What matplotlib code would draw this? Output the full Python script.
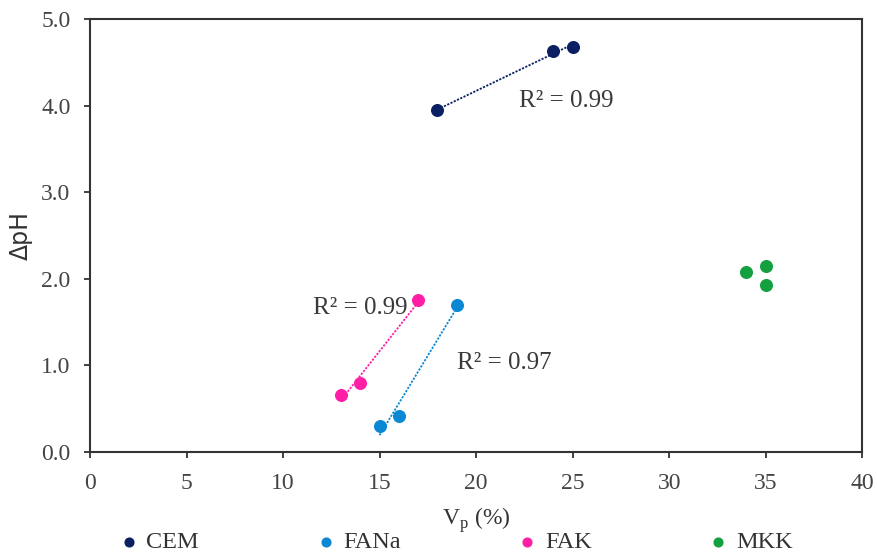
import numpy as np
import matplotlib.pyplot as plt

plt.rcParams['font.family'] = ['Liberation Serif', 'DejaVu Serif']

# data
cem_x = [18, 24, 25]
cem_y = [3.95, 4.63, 4.68]
fana_x = [15, 16, 19]
fana_y = [0.30, 0.42, 1.70]
fak_x = [13, 14, 17]
fak_y = [0.66, 0.80, 1.75]
mkk_x = [34, 35, 35]
mkk_y = [2.08, 2.15, 1.93]

names = ['CEM', 'FANa', 'FAK', 'MKK']
colors = ['#0b1f63', '#0a88d4', '#ff1fa6', '#13a03f']
r2_text = ['R² = 0.99', 'R² = 0.97', 'R² = 0.99', None]
r2_pos = [(22.2, 4.05), (19.0, 1.03), (11.55, 1.66), None]

fig = plt.figure(figsize=(8.78, 5.57), dpi=100)
ax = fig.add_axes([0.1025, 0.1885, 0.8795, 0.7775])

series = [(cem_x, cem_y), (fana_x, fana_y), (fak_x, fak_y), (mkk_x, mkk_y)]
for i, (x, y) in enumerate(series):
    ax.scatter(x, y, s=70, color=colors[i], label=names[i], zorder=3)
    if r2_text[i] is not None:
        # linear trendline
        k, b = np.polyfit(x, y, 1)
        xx = np.array([min(x), max(x)])
        ax.plot(xx, k*xx+b, color=colors[i], lw=1.3, ls=(0, (1.2, 0.8)), zorder=2)
        ax.text(r2_pos[i][0], r2_pos[i][1], r2_text[i], fontsize=18, color='#3a3a3a',
                va='center', ha='left')

ax.set_xlim(0, 40)
ax.set_ylim(0, 5)
ax.set_xticks(range(0, 41, 5))
ax.set_yticks(np.arange(0, 5.01, 1))
ax.set_yticklabels(['%.1f' % v for v in np.arange(0, 5.01, 1)])
ax.tick_params(labelsize=17, labelcolor='#444444', color='#333333', direction='out',
               length=4, width=1.3)
ax.tick_params(axis='x', pad=11)
ax.tick_params(axis='y', pad=10)
for sp in ax.spines.values():
    sp.set_linewidth(1.5)
    sp.set_color('#333333')
ax.set_xlabel('V$_\\mathregular{p}$ (%)', fontsize=17, color='#333333', labelpad=8)
ax.set_ylabel('ΔpH', fontsize=17, color='#333333', family='DejaVu Sans', labelpad=6)

fig.legend(loc='center left', bbox_to_anchor=(0.133, 0.027), ncol=4, frameon=False,
           fontsize=17.5, handletextpad=0.42, columnspacing=4.91, markerscale=0.75,
           handlelength=0.6, borderaxespad=0, borderpad=0.2, labelcolor='#333333')

fig.savefig('out.png', dpi=100)
